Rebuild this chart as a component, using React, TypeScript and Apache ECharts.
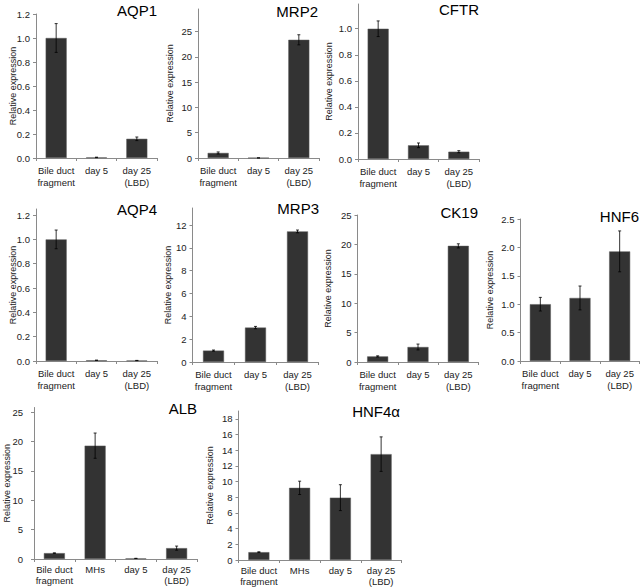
import React, { useEffect, useRef } from "react";
import * as echarts from "echarts";

const categories3 = ["Bile duct\nfragment", "day 5", "day 25\n(LBD)"];
const categories4 = ["Bile duct\nfragment", "MHs", "day 5", "day 25\n(LBD)"];

const aqp1Values = [1.0, 0.005, 0.16];
const aqp1Errors = [0.12, 0.002, 0.015];
const mrp2Values = [1.0, 0.02, 23.4];
const mrp2Errors = [0.2, 0.0, 1.0];
const cftrValues = [1.0, 0.105, 0.056];
const cftrErrors = [0.06, 0.018, 0.008];
const aqp4Values = [1.0, 0.006, 0.004];
const aqp4Errors = [0.077, 0.001, 0.001];
const mrp3Values = [1.0, 3.02, 11.45];
const mrp3Errors = [0.05, 0.1, 0.12];
const ck19Values = [0.95, 2.55, 19.75];
const ck19Errors = [0.1, 0.5, 0.35];
const hnf6Values = [1.0, 1.11, 1.93];
const hnf6Errors = [0.12, 0.21, 0.36];
const albValues = [1.0, 19.3, 0.1, 1.85];
const albErrors = [0.05, 2.15, 0.02, 0.35];
const hnf4aValues = [1.0, 9.2, 7.95, 13.5];
const hnf4aErrors = [0.05, 0.85, 1.65, 2.2];

const yTicks = {
  AQP1: { max: 1.2, interval: 0.2, decimals: 1 },
  MRP2: { max: 29.5, interval: 5, decimals: 0 },
  CFTR: { max: 1.19, interval: 0.2, decimals: 1 },
  AQP4: { max: 1.25, interval: 0.2, decimals: 1 },
  MRP3: { max: 13.5, interval: 2, decimals: 0 },
  CK19: { max: 25, interval: 5, decimals: 0 },
  HNF6: { max: 2.5, interval: 0.5, decimals: 1 },
  ALB: { max: 25.8, interval: 5, decimals: 0 },
  HNF4a: { max: 19, interval: 2, decimals: 0 },
};

const FONT = "'Liberation Sans', Arial, Helvetica, sans-serif";
const AXIS_COLOR = "#8a8a8a";
const TEXT_COLOR = "#222";

type Panel = {
  title: string;
  cats: string[];
  values: number[];
  errors: number[];
  ticks: { max: number; interval: number; decimals: number };
  left: number;
  top: number;
  width: number;
  height: number;
  nameGap: number;
  yLabelMargin: number;
  titleX: number;
  titleY: number;
  labelLineHeight: number;
  labelMargin: number;
};

const panels: Panel[] = [
  { title: "AQP1", cats: categories3, values: aqp1Values, errors: aqp1Errors, ticks: yTicks.AQP1, left: 36, top: 14, width: 121, height: 144, nameGap: 19, yLabelMargin: 6, titleX: 157, titleY: 10, labelLineHeight: 12.5, labelMargin: 6 },
  { title: "MRP2", cats: categories3, values: mrp2Values, errors: mrp2Errors, ticks: yTicks.MRP2, left: 198, top: 9, width: 121, height: 149, nameGap: 24, yLabelMargin: 6, titleX: 318, titleY: 11, labelLineHeight: 12.5, labelMargin: 6 },
  { title: "CFTR", cats: categories3, values: cftrValues, errors: cftrErrors, ticks: yTicks.CFTR, left: 358, top: 4, width: 121, height: 155, nameGap: 25, yLabelMargin: 6, titleX: 479, titleY: 9, labelLineHeight: 12.5, labelMargin: 6 },
  { title: "AQP4", cats: categories3, values: aqp4Values, errors: aqp4Errors, ticks: yTicks.AQP4, left: 36, top: 209, width: 121, height: 152, nameGap: 19, yLabelMargin: 6, titleX: 157, titleY: 209, labelLineHeight: 12.5, labelMargin: 6 },
  { title: "MRP3", cats: categories3, values: mrp3Values, errors: mrp3Errors, ticks: yTicks.MRP3, left: 192.5, top: 208, width: 126, height: 154, nameGap: 20, yLabelMargin: 6, titleX: 319, titleY: 208, labelLineHeight: 12.5, labelMargin: 6 },
  { title: "CK19", cats: categories3, values: ck19Values, errors: ck19Errors, ticks: yTicks.CK19, left: 357.5, top: 215, width: 121, height: 147, nameGap: 25, yLabelMargin: 6, titleX: 478, titleY: 212, labelLineHeight: 12.5, labelMargin: 6 },
  { title: "HNF6", cats: categories3, values: hnf6Values, errors: hnf6Errors, ticks: yTicks.HNF6, left: 520.5, top: 219, width: 119, height: 142, nameGap: 26, yLabelMargin: 6, titleX: 639, titleY: 216, labelLineHeight: 12.5, labelMargin: 6 },
  { title: "ALB", cats: categories4, values: albValues, errors: albErrors, ticks: yTicks.ALB, left: 34, top: 407.5, width: 163, height: 151.5, nameGap: 23, yLabelMargin: 11, titleX: 197, titleY: 408, labelLineHeight: 11, labelMargin: 5 },
  { title: "HNF4α", cats: categories4, values: hnf4aValues, errors: hnf4aErrors, ticks: yTicks.HNF4a, left: 238.5, top: 411, width: 163, height: 149, nameGap: 24.5, yLabelMargin: 6, titleX: 400, titleY: 411, labelLineHeight: 11, labelMargin: 5 },
];

function errorRenderItem(params: any, api: any) {
  const idx = api.value(0);
  const lo = api.coord([idx, api.value(1)]);
  const hi = api.coord([idx, api.value(2)]);
  const x = lo[0];
  const cap = 1.5;
  const style = { stroke: "#000", lineWidth: 0.8 };
  return {
    type: "group",
    children: [
      { type: "line", shape: { x1: x, y1: lo[1], x2: x, y2: hi[1] }, style },
      { type: "line", shape: { x1: x - cap, y1: hi[1], x2: x + cap, y2: hi[1] }, style },
      { type: "line", shape: { x1: x - cap, y1: lo[1], x2: x + cap, y2: lo[1] }, style },
    ],
  };
}

function buildOption() {
  const grid: any[] = [];
  const xAxis: any[] = [];
  const yAxis: any[] = [];
  const series: any[] = [];
  const graphic: any[] = [];

  panels.forEach((p, i) => {
    grid.push({ left: p.left, top: p.top, width: p.width, height: p.height, outerBoundsMode: "none", containLabel: false });
    xAxis.push({
      type: "category",
      gridIndex: i,
      data: p.cats,
      axisLine: { show: true, lineStyle: { color: AXIS_COLOR, width: 1 } },
      axisTick: { show: true, length: 3, lineStyle: { color: AXIS_COLOR } },
      axisLabel: { interval: 0, fontSize: 9.5, color: TEXT_COLOR, margin: p.labelMargin, lineHeight: p.labelLineHeight, fontFamily: FONT },
      splitLine: { show: false },
    });
    const dec = p.ticks.decimals;
    const hideMax = Math.abs(p.ticks.max / p.ticks.interval - Math.round(p.ticks.max / p.ticks.interval)) > 1e-6;
    yAxis.push({
      type: "value",
      gridIndex: i,
      min: 0,
      max: p.ticks.max,
      interval: p.ticks.interval,
      splitLine: { show: false },
      axisLine: { show: true, lineStyle: { color: AXIS_COLOR, width: 1 } },
      axisTick: { show: true, length: 3, lineStyle: { color: AXIS_COLOR } },
      axisLabel: {
        fontSize: 9.5,
        color: TEXT_COLOR,
        margin: p.yLabelMargin,
        fontFamily: FONT,
        showMaxLabel: !hideMax,
        showMinLabel: true,
        formatter: (v: number) => v.toFixed(dec),
      },
      name: "Relative expression",
      nameLocation: "middle",
      nameGap: p.nameGap,
      nameMoveOverlap: false,
      nameTextStyle: { fontSize: 9, color: TEXT_COLOR, fontFamily: FONT },
    });
    series.push({
      type: "bar",
      xAxisIndex: i,
      yAxisIndex: i,
      data: p.values,
      barWidth: 21,
      itemStyle: { color: "#333333", borderColor: "#5a5a5a", borderWidth: 0.5 },
      z: 2,
    });
    series.push({
      type: "custom",
      xAxisIndex: i,
      yAxisIndex: i,
      data: p.values.map((v, j) => [j, Math.max(0, v - p.errors[j]), v + p.errors[j]]),
      encode: { x: 0, y: [1, 2] },
      renderItem: errorRenderItem,
      z: 5,
    });
    graphic.push({
      type: "text",
      x: p.titleX,
      y: p.titleY,
      style: {
        text: p.title,
        fontSize: 15,
        fontFamily: FONT,
        fill: "#000",
        align: "right",
        verticalAlign: "middle",
      },
    });
  });

  return {
    animation: false,
    backgroundColor: "#ffffff",
    textStyle: { fontFamily: FONT },
    grid,
    xAxis,
    yAxis,
    series,
    graphic,
  };
}

export default function App() {
  const ref = useRef<HTMLDivElement>(null);
  useEffect(() => {
    if (!ref.current) return;
    const chart = echarts.init(ref.current, undefined, { renderer: "svg" });
    chart.setOption(buildOption() as any);
    return () => chart.dispose();
  }, []);
  return (
    <div
      ref={ref}
      style={{ position: "fixed", left: 0, top: 0, width: 640, height: 588, background: "#fff" }}
    />
  );
}
